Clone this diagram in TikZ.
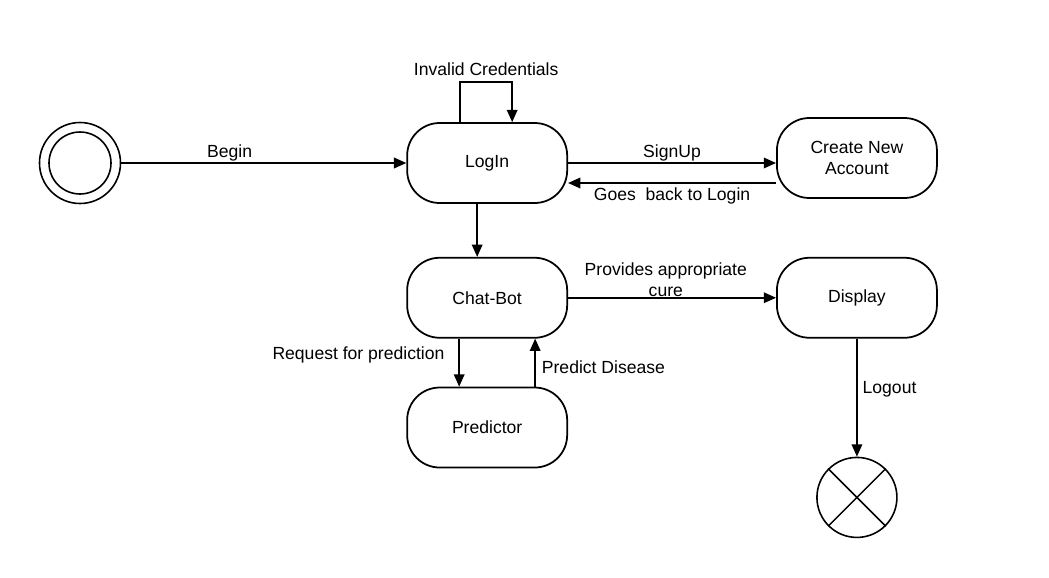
\documentclass[tikz,border=0pt]{standalone}
\usepackage{fontspec}
\setmainfont{Liberation Sans}
\usetikzlibrary{positioning,arrows.meta}

\begin{document}
\begin{tikzpicture}[node distance={40pt}, line width=1pt, >={Triangle[length=7pt,width=6pt]}]
				\tikzstyle{st}=[draw, rectangle, rounded corners=0.65cm, minimum width=3.2cm, minimum height=1.6cm, align=center]
				\tikzstyle{ci}=[draw, circle, line width=0.9pt]

				\useasboundingbox (0,0) rectangle (20.98,-11.54);

				\node[ci, minimum size=1.62cm] (init) at (1.6,-3.26) {};
				\node[ci, minimum size=1.24cm] (initin) at (init) {};
				\node[st] (login) [right=5.7cm of init] {LogIn};
				\node[st] (create) [right=4.16cm of login, yshift=0.1cm] {Create New\\Account};
				\node[st] (chat) [below=1.06cm of login] {Chat-Bot};
				\node[st] (display) [right=4.16cm of chat] {Display};
				\node[st] (pred) [below=0.96cm of chat] {Predictor};
				\node[ci, minimum size=1.6cm] (stop) [below=2.36cm of display] {};
				\draw[line width=0.9pt] (stop.45) -- (stop.225) (stop.135) -- (stop.315);

				\draw [->] (init) -- node[above, pos=0.38, yshift=-3pt] {Begin} (login);
				\draw [->] ([xshift=-0.54cm]login.north) -- ++(0,0.8) -- node[above] {Invalid Credentials} ++(1.04,0) -- ([xshift=0.5cm]login.north);
				\draw [->] (login.east) -- node[above, yshift=-3pt] {SignUp} (login.east -| create.west);
				\draw [->] ([yshift=-0.5cm]create.west) -- node[below, yshift=1pt] {Goes\ \ back to Login} ([yshift=-0.5cm]create.west -| login.east);
				\draw [->] ([xshift=-0.2cm]login.south) -- ([xshift=-0.2cm]chat.north);
				\draw [->] (chat) -- node[pos=0.47, yshift=0.36cm, align=center] {Provides appropriate\\cure} (display);
				\draw [->] ([xshift=-0.56cm]chat.south) -- node[left, pos=0.35, xshift=-0.16cm] {Request for prediction} ([xshift=-0.56cm]pred.north);
				\draw [->] ([xshift=0.96cm]pred.north) -- node[right, pos=0.4] {Predict Disease} ([xshift=0.96cm]chat.south);
				\draw [->] (display) -- node[right, pos=0.43, xshift=-0.02cm] {Logout} (stop);
			\end{tikzpicture}
\end{document}
